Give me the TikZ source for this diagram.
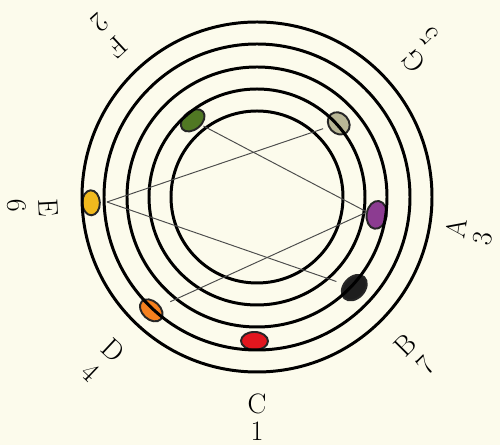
\documentclass[tikz,border=0pt]{standalone}
\usepackage{tikz}
\usetikzlibrary{shapes.geometric}
\definecolor{paper}{RGB}{252,251,236}
\definecolor{cred}{RGB}{226,22,30}
\definecolor{corange}{RGB}{245,128,30}
\definecolor{cyellow}{RGB}{240,185,30}
\definecolor{cgreen}{RGB}{80,120,35}
\definecolor{cgray}{RGB}{185,183,150}
\definecolor{cpurple}{RGB}{140,60,145}
\definecolor{cblack}{RGB}{30,30,30}
\tikzset{
  ring/.style  = {black, line width=1.7pt},
  spot/.style  = {ellipse, draw=black!85, line width=1.1pt, inner sep=0pt,
                  minimum width=0.54cm, minimum height=0.36cm},
  link/.style  = {black!70, line width=0.55pt},
  lbl/.style   = {inner sep=0pt, font=\fontsize{16}{16}\selectfont}
}

\begin{document}
\begin{tikzpicture}[x=0.02cm, y=0.02cm]

% paper and frame
\fill[paper] (-257,-248) rectangle (243,197);
\useasboundingbox (-257,-248) rectangle (243,197);

% the colour spots (the rings go on top of them)
\node[spot, fill=cred,    rotate=-1]   (red)    at (-91:144) {};
\node[spot, fill=corange, rotate=317,
      minimum width=0.52cm, minimum height=0.36cm] (orange) at (227:155) {};
\node[spot, fill=cyellow, rotate=272,
      minimum width=0.50cm, minimum height=0.35cm] (yellow) at (182:166) {};
\node[spot, fill=cgreen,  rotate=220]  (green)  at (130:100) {};
\node[spot, fill=cgray,   rotate=132,
      minimum width=0.48cm, minimum height=0.40cm] (gray)   at (42:110) {};
\node[spot, fill=cpurple, rotate=81,
      minimum width=0.56cm, minimum height=0.40cm] (purple) at (-8.5:121) {};
\node[spot, fill=cblack,  rotate=47,
      minimum width=0.58cm, minimum height=0.42cm] (black)  at (-43:133) {};

% concentric rings
\foreach \r in {86,108,130,153,175}
  \draw[ring] (0,0) circle[radius=\r];

% the four lines
\coordinate (ys) at (-150,-5);
\coordinate (ps) at (110,-15);
\draw[link, shorten >=3pt] (ys) -- (gray);
\draw[link, shorten >=4pt] (ys) -- (black);
\draw[link, shorten >=1pt] (ps) -- (green);
\draw[link, shorten >=6pt] (ps) -- (orange);

% note names round the rim
\foreach \a/\r/\l in {-90/207/C, -45/209/B, -9/202/A, 41/207/G, 133/205/F, 183/209/E, 227/210/D}
  \node[lbl, rotate=\a+90] (\l) at (\a:\r) {\l};

% and their numbers
\foreach \a/\r/\n in {-90/234/1, -45/238/7, -10.5/230/3, 43/236/5, 132/234/2, 182/240/6, 226.5/242/4}
  \node[lbl, rotate=\a+90] (n\n) at (\a:\r) {\n};

\end{tikzpicture}
\end{document}
